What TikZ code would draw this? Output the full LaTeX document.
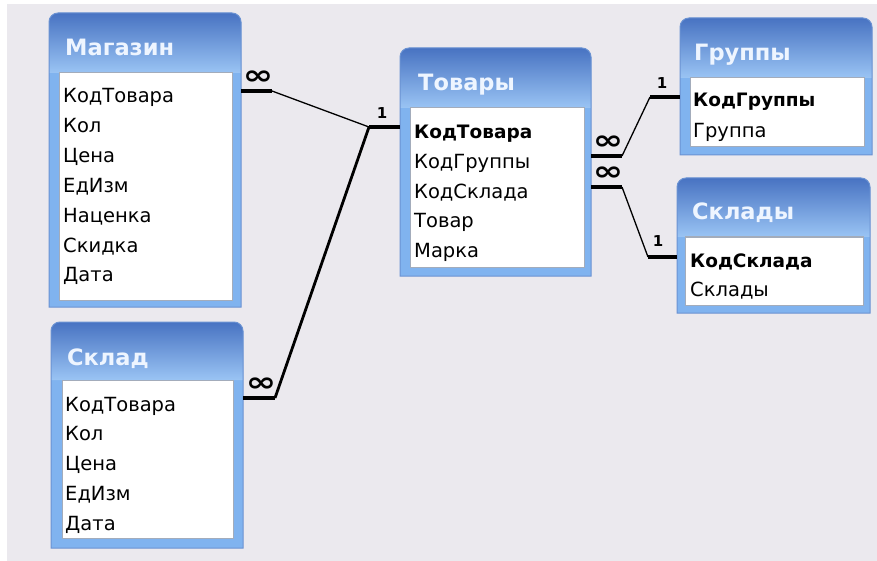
\documentclass[tikz,border=0pt]{standalone}
\usepackage{fontspec}
\setmainfont{DejaVu Sans}
\usetikzlibrary{calc}
\definecolor{bg}{HTML}{EBE9EE}
\definecolor{hdtop}{HTML}{4873C2}
\definecolor{hdbot}{HTML}{9AC4F4}
\definecolor{frameblue}{HTML}{80B3EF}
\definecolor{frameedge}{HTML}{6A92D2}
\definecolor{innerline}{HTML}{A3ACBB}
\definecolor{titletext}{HTML}{EEF5FF}
\tikzset{
 rowtext/.style={anchor=base west, inner sep=0pt, font=\fontsize{19.5}{22}\selectfont},
 keytext/.style={anchor=base west, inner sep=0pt, font=\fontsize{18.5}{22}\selectfont\bfseries},
 titletxt/.style={anchor=base west, inner sep=0pt, text=titletext, font=\fontsize{22.5}{26}\selectfont\bfseries},
 bar/.style={line width=4.5pt},
 thinrel/.style={line width=1.3pt},
 thickrel/.style={line width=2.8pt},
 manylbl/.style={inner sep=0pt, xscale=1.35, font=\fontsize{27}{28}\selectfont\bfseries},
 onelbl/.style={inner sep=0pt, font=\fontsize{15}{16}\selectfont\bfseries},
 tabbox/.style={inner sep=0pt, outer sep=0pt},
}
% #1 name, #2 x1, #3 y1, #4 x2, #5 y2, #6 ix1, #7 iy1, #8 ix2, #9 iy2
\newcommand\dbframe[9]{%
 \node[tabbox, minimum width={(#4-#2)*1pt}, minimum height={(#5-#3)*1pt}] (#1) at ({(#2+#4)/2},{(#3+#5)/2}) {};
 \fill[frameblue] (#2,#5) [rounded corners=9pt] -- (#2,#3) -- (#4,#3) [sharp corners] -- (#4,#5) -- cycle;
 \shade[top color=hdtop, bottom color=hdbot] (#2,#7) [rounded corners=9pt] -- (#2,#3) -- (#4,#3) [sharp corners] -- (#4,#7) -- cycle;
 \draw[frameedge, line width=1pt] (#2,#5) [rounded corners=9pt] -- (#2,#3) -- (#4,#3) [sharp corners] -- (#4,#5) -- cycle;
 \draw[fill=white, draw=innerline, line width=1pt] (#6,#7) rectangle (#8,#9);
}
\begin{document}
\begin{tikzpicture}[x=1pt,y=-1pt]
\useasboundingbox (0,0) rectangle (877,561);
\fill[white] (0,0) rectangle (877,561);
\fill[bg] (7,4) rectangle (877,561);

% Магазин
\dbframe{mag}{49}{13}{241}{307}{59}{73}{232}{300}
\node[titletxt] (magT) at (65,56) {Магазин};
\node[rowtext] (mag1) at (63,103) {КодТовара};
\node[rowtext] (mag2) at (63,132.8) {Кол};
\node[rowtext] (mag3) at (63,162.6) {Цена};
\node[rowtext] (mag4) at (63,192.4) {ЕдИзм};
\node[rowtext] (mag5) at (63,222.2) {Наценка};
\node[rowtext] (mag6) at (63,252) {Скидка};
\node[rowtext] (mag7) at (63,281.8) {Дата};

% Склад
\dbframe{skl}{51}{322}{243}{548}{62}{380}{233}{538}
\node[titletxt] (sklT) at (67,365) {Склад};
\node[rowtext] (skl1) at (65,411) {КодТовара};
\node[rowtext] (skl2) at (65,440.8) {Кол};
\node[rowtext] (skl3) at (65,470.6) {Цена};
\node[rowtext] (skl4) at (65,500.4) {ЕдИзм};
\node[rowtext] (skl5) at (65,530.2) {Дата};

% Товары
\dbframe{tov}{400}{48}{591}{276}{410}{108}{584}{267}
\node[titletxt] (tovT) at (418,91) {Товары};
\node[keytext] (tov1) at (414,139) {КодТовара};
\node[rowtext] (tov2) at (414,168.6) {КодГруппы};
\node[rowtext] (tov3) at (414,198.2) {КодСклада};
\node[rowtext] (tov4) at (414,227.8) {Товар};
\node[rowtext] (tov5) at (414,257.4) {Марка};

% Группы
\dbframe{grp}{680}{18}{872}{155}{690}{78}{864}{147}
\node[titletxt] (grpT) at (694,61) {Группы};
\node[keytext] (grp1) at (693,107) {КодГруппы};
\node[rowtext] (grp2) at (693,138) {Группа};

% Склады
\dbframe{skd}{677}{178}{870}{313}{685}{237}{863}{305}
\node[titletxt] (skdT) at (692,220) {Склады};
\node[keytext] (skd1) at (690,267) {КодСклада};
\node[rowtext] (skd2) at (690,296) {Склады};

% connector points
\coordinate (magR) at (241,91);
\coordinate (magB) at (272,91);
\coordinate (tovL) at (400,127);
\coordinate (tovB) at (369,127);
\coordinate (sklR) at (243,398);
\coordinate (sklB) at (275,398);
\coordinate (tovR1) at (591,156);
\coordinate (tovB1) at (622,156);
\coordinate (grpB) at (650,97);
\coordinate (grpL) at (680,97);
\coordinate (tovR2) at (591,187);
\coordinate (tovB2) at (622,187);
\coordinate (skdB) at (648,257);
\coordinate (skdL) at (677,257);

% Магазин -- Товары
\draw[bar] (magR) -- (magB);
\draw[thinrel] (magB) -- (tovB);
\draw[bar] (tovB) -- (tovL);
\node[manylbl] (m1) at (258,78) {∞};
\node[onelbl] (o1) at (382,113) {1};

% Склад -- Товары
\draw[bar] (sklR) -- (sklB);
\draw[thickrel, line join=round] (sklB) -- (tovB);
\node[manylbl] (m2) at (261,385) {∞};

% Товары -- Группы
\draw[bar] (tovR1) -- (tovB1);
\draw[thinrel] (tovB1) -- (grpB);
\draw[bar] (grpB) -- (grpL);
\node[manylbl] (m3) at (608,143) {∞};
\node[onelbl] (o3) at (662,83) {1};

% Товары -- Склады
\draw[bar] (tovR2) -- (tovB2);
\draw[thinrel] (tovB2) -- (skdB);
\draw[bar] (skdB) -- (skdL);
\node[manylbl] (m4) at (608,174) {∞};
\node[onelbl] (o4) at (658,241) {1};
\end{tikzpicture}
\end{document}
